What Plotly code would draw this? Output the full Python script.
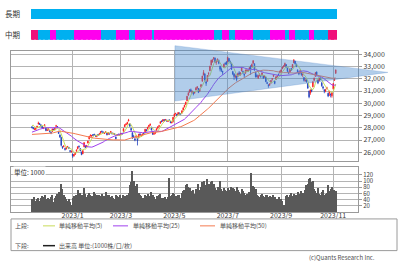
import pandas as pd
import plotly.graph_objects as go

# ---------------- data ----------------
holidays = ['2022-11-23', '2023-01-02', '2023-01-03', '2023-01-09', '2023-02-23',
            '2023-03-21', '2023-05-03', '2023-05-04', '2023-05-05', '2023-07-17',
            '2023-08-11', '2023-09-18', '2023-10-09', '2023-11-03']
dates = pd.bdate_range('2022-11-16', '2023-11-06', freq='C', holidays=holidays)

# closes before the visible window (only used for the moving averages)
pre_close = [27650, 27620, 27630, 27430, 28070, 28210, 28540, 28610, 27820, 27880, 27570, 27690, 27310, 27150, 26430, 26570, 26170, 26420, 25940,
             26220, 26990, 27120, 27310, 27120, 26400, 26700, 26540, 27390, 27080, 27460, 27560, 27310, 27190, 27270, 27550, 27730, 27650, 27410, 27890,
             27980, 27960, 27500, 27830, 28170, 28020, 27750, 28560, 28260, 28290]

open_ = [
    # Nov
    28080, 28000, 27880, 27870, 28020, 28300, 28340, 28250, 28100, 27960,
    # Dec
    28180, 28000, 27790, 27850, 27760, 27620, 27700, 27880, 27870, 28120, 28100, 27700, 27420, 27200, 26450, 26470, 26300, 26280, 26420, 26400, 26120, 26060,
    # Jan
    25850, 25700, 25830, 26080, 26280, 26480, 26300, 26020, 25880, 26450, 26480, 26460, 26760, 27080, 27350, 27320, 27440, 27470, 27380,
    # Feb
    27300, 27460, 27450, 27560, 27700, 27660, 27540, 27630, 27560, 27480, 27560, 27600, 27570, 27500, 27500, 27250, 27380, 27480, 27400,
    # Mar
    27490, 27540, 27720, 28090, 28250, 28320, 28560, 28320, 27950, 27600, 27300, 27090, 27240, 27150, 27200, 27480, 27350, 27420, 27560, 27680, 27820, 27900,
    # Apr
    28100, 28220, 28050, 27720, 27500, 27560, 27800, 27960, 28120, 28360, 28560, 28530, 28660, 28620, 28620, 28520, 28640, 28520, 28400, 28520,
    # May
    28920, 29140, 29100, 29070, 29200, 29150, 29200, 29460, 29700, 29900, 30200, 30670, 30900, 31100, 30850, 30900, 30850, 31080, 31260, 31200,
    # Jun
    31000, 31350, 31800, 32300, 32400, 31750, 31800, 32400, 32650, 33120, 33360, 33650, 33700, 33350, 33480, 33480, 33020, 32760, 32600, 32930, 33260, 33380,
    # Jul
    33380, 33650, 33380, 33250, 32580, 32380, 32150, 32230, 32210, 32480, 32320, 32640, 32610, 32360, 32450, 32660, 32620, 32790, 33000, 33000,
    # Aug
    33270, 33230, 32540, 32270, 32060, 32260, 32260, 32330, 32240, 32140, 32150, 31680, 31500, 31510, 31650, 31950, 32210, 31800, 31950, 32200, 32380, 32500,
    # Sep
    32590, 32830, 32970, 33050, 33150, 32880, 32520, 32560, 32830, 32900, 33300, 33440, 33180, 32700, 32500, 32480, 32530, 32300, 32100, 31850,
    # Oct
    31900, 31600, 31000, 30850, 31120, 31350, 31880, 32200, 32560, 31900, 31830, 32100, 31680, 31330, 31080, 31020, 31200, 30820, 30840, 30750, 30620,
    # Nov
    31180, 31880, 32450,
]
high = [
    28110, 28040, 27960, 27990, 28170, 28500, 28400, 28270, 28130, 28060,
    28300, 28030, 27880, 27960, 27800, 27680, 27930, 27930, 28000, 28240, 28120, 27760, 27450, 27260, 26500, 26580, 26360, 26450, 26520, 26440, 26180, 26140,
    25880, 25860, 26020, 26240, 26480, 26560, 26330, 26050, 26180, 26800, 26500, 26600, 26940, 27320, 27450, 27420, 27490, 27510, 27420,
    27420, 27490, 27560, 27720, 27780, 27700, 27640, 27720, 27580, 27630, 27580, 27740, 27620, 27590, 27560, 27280, 27490, 27510, 27500,
    27580, 27590, 27960, 28280, 28370, 28490, 28730, 28350, 27990, 27640, 27420, 27210, 27420, 27200, 27500, 27560, 27450, 27530, 27640, 27910, 27900, 28080,
    28240, 28340, 28080, 27740, 27580, 27680, 27950, 28120, 28240, 28530, 28600, 28700, 28700, 28720, 28660, 28640, 28680, 28560, 28500, 28880,
    29160, 29230, 29140, 29280, 29250, 29200, 29420, 29660, 29880, 30120, 30600, 30920, 31150, 31200, 31050, 30960, 30980, 31330, 31400, 31250,
    31180, 31560, 32250, 32710, 32420, 31850, 32300, 32560, 33060, 33560, 33620, 33770, 33720, 33560, 33670, 33560, 33070, 32920, 32660, 33230, 33340, 33420,
    33790, 33680, 33480, 33310, 32640, 32460, 32350, 32260, 32500, 32620, 32530, 32960, 32650, 32440, 32750, 32780, 32770, 32950, 33110, 33240,
    33490, 33240, 32570, 32370, 32310, 32430, 32280, 32530, 32270, 32300, 32170, 31760, 31550, 31620, 31890, 32050, 32350, 31830, 32200, 32300, 32420, 32650,
    32770, 32990, 33100, 33320, 33190, 32900, 32600, 32810, 32880, 33200, 33600, 33450, 33240, 32770, 32620, 32740, 32560, 32420, 32130, 32050,
    31980, 31650, 31020, 31130, 31200, 31790, 32100, 32540, 32580, 31930, 32070, 32200, 31710, 31420, 31160, 31180, 31350, 30860, 31010, 30800, 30900,
    31640, 32050, 32760,
]
low = [
    27950, 27880, 27830, 27820, 27990, 28280, 28240, 28080, 27980, 27890,
    28120, 27720, 27740, 27780, 27620, 27480, 27670, 27790, 27820, 28080, 27960, 27500, 27180, 26480, 26280, 26400, 26140, 26230, 26360, 26260, 26000, 25980,
    25550, 25640, 25780, 26050, 26240, 26380, 26080, 25760, 25850, 26420, 26340, 26400, 26720, 27060, 27280, 27260, 27330, 27370, 27270,
    27230, 27350, 27420, 27530, 27620, 27560, 27490, 27570, 27380, 27430, 27440, 27560, 27470, 27460, 27420, 27050, 27330, 27370, 27350,
    27430, 27450, 27690, 28060, 28210, 28280, 28520, 28060, 27650, 27080, 27160, 26900, 27150, 26560, 27140, 27360, 27250, 27360, 27440, 27640, 27700, 27860,
    28030, 28150, 27780, 27430, 27410, 27480, 27760, 27920, 28070, 28330, 28440, 28500, 28560, 28550, 28500, 28470, 28540, 28370, 28360, 28430,
    28900, 29080, 28950, 29040, 29080, 29040, 29160, 29420, 29660, 29870, 30160, 30600, 30880, 30940, 30800, 30650, 30780, 31050, 31150, 30830,
    30920, 31280, 31770, 32280, 31820, 31420, 31760, 32250, 32620, 33080, 33320, 33530, 33280, 33140, 33390, 33180, 32600, 32550, 32310, 32890, 33110, 33110,
    33340, 33380, 33220, 32720, 32300, 31910, 32050, 31790, 32130, 32320, 32250, 32600, 32380, 32130, 32420, 32570, 32560, 32740, 32310, 32950,
    33210, 32660, 32100, 32100, 31980, 32190, 32080, 32250, 31990, 32080, 31720, 31560, 31270, 31410, 31600, 31850, 32140, 31550, 31900, 32110, 32220, 32420,
    32550, 32780, 32920, 32990, 32880, 32520, 32380, 32510, 32640, 32870, 33280, 33160, 32950, 32460, 32290, 32440, 32250, 32130, 31780, 31760,
    31680, 31180, 30410, 30690, 30900, 31300, 31800, 32150, 32200, 31560, 31800, 31890, 31350, 31120, 30820, 30900, 31130, 30500, 30600, 30480, 30460,
    31130, 31820, 32400,
]
close = [
    28030, 27930, 27900, 27940, 28120, 28380, 28280, 28160, 28030, 27970,
    28230, 27780, 27820, 27890, 27690, 27570, 27900, 27840, 27950, 28160, 28050, 27530, 27240, 26570, 26390, 26510, 26240, 26410, 26450, 26340, 26090, 26090,
    25720, 25820, 25970, 26180, 26450, 26450, 26120, 25820, 26140, 26790, 26410, 26550, 26910, 27300, 27400, 27360, 27380, 27430, 27330,
    27350, 27400, 27510, 27690, 27690, 27610, 27580, 27670, 27430, 27600, 27500, 27700, 27510, 27530, 27470, 27100, 27450, 27420, 27450,
    27520, 27500, 27930, 28240, 28310, 28440, 28620, 28140, 27830, 27220, 27230, 27010, 27330, 26950, 27470, 27420, 27390, 27480, 27520, 27880, 27780, 28040,
    28190, 28290, 27810, 27470, 27520, 27630, 27920, 28080, 28160, 28490, 28510, 28660, 28610, 28660, 28560, 28590, 28620, 28420, 28460, 28860,
    29120, 29160, 29030, 29240, 29120, 29130, 29390, 29630, 29840, 30090, 30570, 30810, 31090, 31000, 30960, 30800, 30920, 31230, 31330, 30890,
    31150, 31520, 32220, 32510, 31910, 31640, 32270, 32430, 33020, 33500, 33490, 33710, 33370, 33390, 33580, 33260, 32780, 32700, 32540, 33190, 33230, 33190,
    33750, 33420, 33340, 32770, 32390, 32190, 32200, 31940, 32420, 32390, 32490, 32900, 32490, 32300, 32700, 32680, 32670, 32890, 32760, 33170,
    33480, 32710, 32160, 32190, 32250, 32380, 32200, 32470, 32060, 32240, 31770, 31630, 31450, 31570, 31860, 32010, 32290, 31620, 32170, 32230, 32330, 32620,
    32710, 32940, 33040, 33240, 32990, 32610, 32470, 32780, 32710, 33170, 33530, 33240, 33020, 32570, 32400, 32680, 32320, 32370, 31870, 31860,
    31760, 31240, 30530, 31080, 30990, 31750, 32040, 32490, 32320, 31660, 32040, 32040, 31430, 31260, 31000, 31060, 31270, 30600, 30990, 30700, 30860,
    31600, 31950, 32710,
]
volume = [
    42, 38, 48, 35, 40, 45, 33, 44, 50, 47,
    55, 42, 38, 44, 40, 48, 52, 30, 45, 50, 58, 62, 55, 88, 72, 55, 48, 40, 35, 42, 30, 22,
    45, 50, 40, 55, 70, 48, 60, 52, 50, 75, 58, 48, 52, 60, 55, 50, 46, 62, 58,
    52, 48, 55, 50, 58, 45, 50, 62, 55, 48, 52, 46, 50, 45, 40, 55, 50, 48, 52,
    45, 42, 55, 50, 48, 52, 60, 85, 95, 130, 100, 82, 70, 90, 60, 55, 50, 45, 42, 55, 50, 58,
    50, 45, 62, 55, 48, 42, 50, 46, 52, 58, 45, 40, 44, 48, 42, 46, 110, 50, 55, 60,
    58, 50, 48, 55, 52, 45, 60, 65, 70, 85, 90, 80, 75, 68, 62, 70, 58, 72, 65, 88,
    70, 80, 95, 100, 85, 80, 105, 90, 85, 95, 100, 88, 75, 70, 80, 78, 98, 72, 68, 75, 70, 65,
    75, 68, 70, 80, 75, 72, 65, 78, 70, 62, 58, 72, 66, 60, 55, 58, 50, 62, 125, 80,
    82, 78, 72, 55, 50, 48, 52, 58, 50, 48, 55, 52, 46, 50, 48, 45, 52, 48, 42, 40, 46, 38,
    40, 35, 20, 15, 50, 55, 48, 52, 60, 50, 58, 48, 55, 62, 52, 58, 65, 60, 55, 70,
    85, 90, 105, 108, 95, 100, 72, 65, 60, 75, 58, 55, 62, 70, 55, 58, 60, 85, 65, 72, 80,
    68, 70, 65,
]

# medium-term signal: index where each segment starts and its state
mid_starts = [0, 6, 15, 20, 34, 55, 67, 77, 82, 95, 97, 144, 150, 156, 161, 175, 188, 200, 203, 208, 219, 223, 234]
mid_states = ['p', 'c', 'm', 'c', 'm', 'c', 'm', 'c', 'm', 'c', 'm', 'c', 'm', 'c', 'm', 'c', 'm', 'c', 'm', 'c', 'm', 'c', 'p']
long_states = ['c']  # whole period

# triangle drawn on the price chart (trading-day index, price)
tri_idx = [112.5, 112.5, 280.0]
tri_price = [34700, 30180, 32520]

month_ticks = ['2023/1', '2023/3', '2023/5', '2023/7', '2023/9', '2023/11']
price_ticks = [26000, 27000, 28000, 29000, 30000, 31000, 32000, 33000, 34000]
vol_ticks = [20, 40, 60, 80, 100, 120]

# ---------------- derived ----------------
n = len(dates)
assert len(open_) == n and len(high) == n and len(low) == n and len(close) == n and len(volume) == n, \
    (n, len(open_), len(high), len(low), len(close), len(volume))
idx = list(range(n))
full = pd.Series(pre_close + close, dtype=float)
ma5 = full.rolling(5).mean().iloc[-n:].tolist()
ma25 = full.rolling(25).mean().iloc[-n:].tolist()
ma50 = full.rolling(50).mean().iloc[-n:].tolist()

tick_pos = []
for t in month_ticks:
    y, m = t.split('/')
    sel = [i for i, d in enumerate(dates) if d.year == int(y) and d.month == int(m)]
    tick_pos.append(sel[0])

COL = {'c': '#00b0f0', 'm': '#ff00ee', 'p': '#f0107a'}
mid_cols = []
for i in idx:
    k = max(j for j, s in enumerate(mid_starts) if s <= i)
    mid_cols.append(COL[mid_states[k]])
long_cols = [COL[long_states[0]]] * n

# ---------------- geometry ----------------
W, H = 400, 266
ML, MR, MT, MB = 11, 42, 5, 54
PW, PH = W - ML - MR, H - MT - MB


def fx(px):
    return (px - ML) / PW


def fy(py):
    return (H - MB - py) / PH


XR = [-16.5, 256.5]
YR = [25330, 34300]
VR = [0, 144]
dom_price = [fy(160), fy(49)]
dom_vol = [0, fy(167)]
dom_mid = [fy(38), fy(28)]
dom_long = [fy(17), fy(7)]

UP, DOWN = '#ff1a1a', '#1f3fc0'
GRID = '#b4b4b4'
FRAME = '#9a9a9a'
TXT = '#404040'
FONT = 'Noto Sans CJK JP, sans-serif'

fig = go.Figure()
fig.add_trace(go.Candlestick(
    x=idx, open=open_, high=high, low=low, close=close,
    increasing=dict(line=dict(color=UP, width=0.8), fillcolor=UP),
    decreasing=dict(line=dict(color=DOWN, width=0.8), fillcolor=DOWN),
    whiskerwidth=0, xaxis='x', yaxis='y', hoverinfo='skip', showlegend=False))
fig.add_trace(go.Scatter(x=idx, y=ma5, mode='lines', line=dict(color='#c8dc5a', width=1),
                         xaxis='x', yaxis='y', hoverinfo='skip', showlegend=False))
fig.add_trace(go.Scatter(x=idx, y=ma25, mode='lines', line=dict(color='#a040ee', width=1),
                         xaxis='x', yaxis='y', hoverinfo='skip', showlegend=False))
fig.add_trace(go.Scatter(x=idx, y=ma50, mode='lines', line=dict(color='#f47a50', width=1),
                         xaxis='x', yaxis='y', hoverinfo='skip', showlegend=False))
fig.add_trace(go.Bar(x=idx, y=volume, width=0.85, marker=dict(color='#595959', line=dict(width=0)),
                     xaxis='x2', yaxis='y2', hoverinfo='skip', showlegend=False))
fig.add_trace(go.Bar(x=idx, y=[1] * n, base=0, width=1.0, marker=dict(color=mid_cols, line=dict(width=0)),
                     xaxis='x3', yaxis='y3', hoverinfo='skip', showlegend=False))
fig.add_trace(go.Bar(x=idx, y=[1] * n, base=0, width=1.0, marker=dict(color=long_cols, line=dict(width=0)),
                     xaxis='x3', yaxis='y4', hoverinfo='skip', showlegend=False))

tickfont = dict(family=FONT, size=7, color=TXT)
voltickfont = dict(family=FONT, size=6, color=TXT)
common_x = dict(range=XR, tickvals=tick_pos, showgrid=True, gridcolor=GRID, gridwidth=1,
                zeroline=False, showline=True, mirror=True, linecolor=FRAME, linewidth=1, ticks='')


def px_from_idx(i):
    return (i - XR[0]) / (XR[1] - XR[0])


def py_from_price(p):
    return dom_price[0] + (p - YR[0]) / (YR[1] - YR[0]) * (dom_price[1] - dom_price[0])


tri_path = 'M ' + ' L '.join(f'{px_from_idx(a):.4f},{py_from_price(b):.4f}' for a, b in zip(tri_idx, tri_price)) + ' Z'

shapes = [
    dict(type='path', path=tri_path, xref='paper', yref='paper', layer='above',
         fillcolor='rgba(70,135,205,0.42)', line=dict(color='rgba(80,130,200,0.5)', width=0.5)),
    # legend box
    dict(type='rect', xref='paper', yref='paper', x0=fx(11), x1=fx(397), y0=fy(251), y1=fy(219),
         line=dict(color=FRAME, width=1), fillcolor='rgba(0,0,0,0)'),
    dict(type='line', xref='paper', yref='paper', x0=fx(43), x1=fx(55), y0=fy(226), y1=fy(226),
         line=dict(color='#c8dc5a', width=1)),
    dict(type='line', xref='paper', yref='paper', x0=fx(113), x1=fx(128), y0=fy(226), y1=fy(226),
         line=dict(color='#a040ee', width=1)),
    dict(type='line', xref='paper', yref='paper', x0=fx(200), x1=fx(215), y0=fy(226), y1=fy(226),
         line=dict(color='#f47a50', width=1)),
    dict(type='line', xref='paper', yref='paper', x0=fx(43), x1=fx(55), y0=fy(246), y1=fy(246),
         line=dict(color='#202020', width=1.5)),
]

small = dict(family=FONT, size=6, color='#505050')


def ann(text, px, py, anchor='left', font=small, bg=None):
    d = dict(text=text, x=fx(px), y=fy(py), xref='paper', yref='paper', showarrow=False,
             xanchor=anchor, yanchor='middle', font=font, borderpad=0)
    if bg:
        d['bgcolor'] = bg
    return d


annotations = [
    ann('長期', 4, 12, font=dict(family=FONT, size=7.5, color='#333')),
    ann('中期', 4, 33, font=dict(family=FONT, size=7.5, color='#333')),
    ann('単位: 1000', 13, 172, font=dict(family=FONT, size=6.5, color='#333'), bg='white'),
    ann('上段:', 14, 226),
    ann('単純移動平均(5)', 58, 226),
    ann('単純移動平均(25)', 132, 226),
    ann('単純移動平均(50)', 219, 226),
    ann('下段:', 14, 246),
    ann('出来高 単位:(1000株/口/枚)', 58, 246),
    ann('(c)Quants Research Inc.', 376, 258, anchor='right'),
]

fig.update_layout(
    width=W, height=H, margin=dict(l=ML, r=MR, t=MT, b=MB),
    paper_bgcolor='white', plot_bgcolor='white', showlegend=False,
    font=dict(family=FONT, size=7, color=TXT),
    xaxis=dict(domain=[0, 1], anchor='y', showticklabels=False, rangeslider=dict(visible=False), **common_x),
    yaxis=dict(domain=dom_price, anchor='x', side='right', range=YR, tickvals=price_ticks, tickformat=',d',
               showgrid=True, gridcolor=GRID, zeroline=False, showline=True, mirror=True, linecolor=FRAME,
               ticks='outside', ticklen=3, tickcolor=FRAME, tickfont=tickfont),
    xaxis2=dict(domain=[0, 1], anchor='y2', ticktext=month_ticks, showticklabels=True, tickfont=tickfont,
                ticklabelstandoff=-3, **common_x),
    yaxis2=dict(domain=dom_vol, anchor='x2', side='right', range=VR, tickvals=vol_ticks,
                showgrid=True, gridcolor=GRID, zeroline=False, showline=True, mirror=True, linecolor=FRAME,
                ticks='outside', ticklen=3, tickcolor=FRAME, tickfont=voltickfont),
    xaxis3=dict(domain=[0, 1], anchor='y3', range=XR, visible=False),
    yaxis3=dict(domain=dom_mid, anchor='x3', range=[0, 1], visible=False),
    yaxis4=dict(domain=dom_long, anchor='x3', range=[0, 1], visible=False),
    bargap=0, shapes=shapes, annotations=annotations,
)

fig.write_html('out.html')
